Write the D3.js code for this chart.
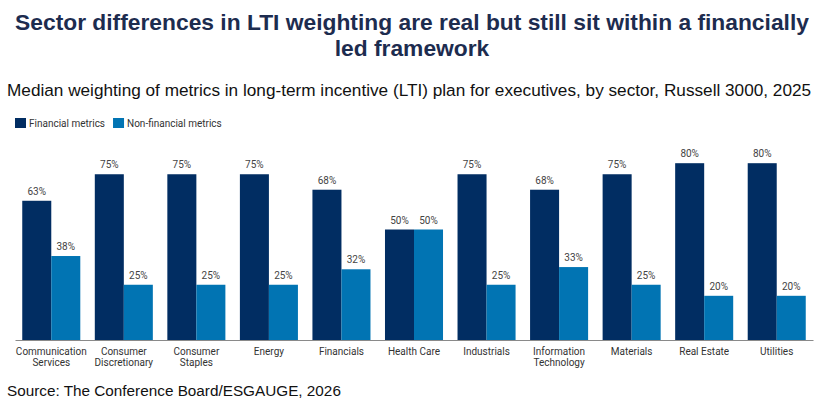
<!DOCTYPE html>
<html>
<head>
<meta charset="utf-8">
<script src="https://cdn.jsdelivr.net/npm/d3@7"></script>
<style>
  body { margin: 0; background: #fff; }
  svg { display: block; font-family: "Liberation Sans", Arial, sans-serif; }
  .small { font-family: Roboto, "Liberation Sans", sans-serif; }
</style>
</head>
<body>
<div id="chart"></div>
<script>
// Données
const sectors = [
  "Communication Services", "Consumer Discretionary", "Consumer Staples", "Energy",
  "Financials", "Health Care", "Industrials", "Information Technology",
  "Materials", "Real Estate", "Utilities"
];
// libellés sur deux lignes
const sectorLabels = [
  ["Communication", "Services"], ["Consumer", "Discretionary"], ["Consumer", "Staples"], ["Energy"],
  ["Financials"], ["Health Care"], ["Industrials"], ["Information", "Technology"],
  ["Materials"], ["Real Estate"], ["Utilities"]
];
const financial = [63, 75, 75, 75, 68, 50, 75, 68, 75, 80, 80];
const nonFinancial = [38, 25, 25, 25, 32, 50, 25, 33, 25, 20, 20];
const seriesNames = ["Financial metrics", "Non-financial metrics"];
const colors = ["#012d62", "#0174b3"];

const width = 833;
const height = 405;

const svg = d3.select("#chart")
  .append("svg")
  .attr("width", width)
  .attr("height", height);

//---------------------------------------------------------------------------------------
// Titraille

svg.append("text")
  .attr("x", 412)
  .attr("y", 30)
  .attr("text-anchor", "middle")
  .attr("font-size", "22.8px")
  .attr("font-weight", "bold")
  .attr("fill", "#1d2c4f")
  .selectAll("tspan")
  .data(["Sector differences in LTI weighting are real but still sit within a financially", "led framework"])
  .join("tspan")
  .attr("x", 412)
  .attr("dy", (d, i) => i === 0 ? 0 : 25.5)
  .text(d => d);

svg.append("text")
  .attr("x", 7)
  .attr("y", 96)
  .attr("font-size", "17.2px")
  .attr("fill", "#111")
  .text("Median weighting of metrics in long-term incentive (LTI) plan for executives, by sector, Russell 3000, 2025");

svg.append("text")
  .attr("x", 7)
  .attr("y", 396)
  .attr("font-size", "15.3px")
  .attr("fill", "#111")
  .text("Source: The Conference Board/ESGAUGE, 2026");

//---------------------------------------------------------------------------------------
// Légende

const legend = svg.append("g").attr("transform", "translate(15, 118)");
let lx = 0;
seriesNames.forEach((name, i) => {
  const g = legend.append("g").attr("transform", `translate(${lx}, 0)`);
  g.append("rect").attr("width", 11).attr("height", 10).attr("fill", colors[i]);
  const t = g.append("text")
    .attr("class", "small")
    .attr("x", 14)
    .attr("y", 9)
    .attr("font-size", "10px")
    .attr("fill", "#333")
    .text(name);
  lx += 14 + t.node().getComputedTextLength() + 8;
});

//---------------------------------------------------------------------------------------
// Échelles

const x0 = d3.scaleBand()
  .domain(sectors)
  .range([15, 813])
  .paddingInner(0.2)
  .paddingOuter(0.1);

const x1 = d3.scaleBand()
  .domain(seriesNames)
  .range([0, x0.bandwidth()]);

const y = d3.scaleLinear()
  .domain([0, 100])
  .range([340, 119]);

const rows = sectors.map((s, i) => ({
  sector: s,
  values: [
    { key: seriesNames[0], value: financial[i], color: colors[0] },
    { key: seriesNames[1], value: nonFinancial[i], color: colors[1] }
  ]
}));

//---------------------------------------------------------------------------------------
// Barres

const groups = svg.append("g")
  .selectAll("g")
  .data(rows)
  .join("g")
  .attr("transform", d => `translate(${x0(d.sector)}, 0)`);

groups.selectAll("rect")
  .data(d => d.values)
  .join("rect")
  .attr("x", d => x1(d.key))
  .attr("y", d => y(d.value))
  .attr("width", x1.bandwidth())
  .attr("height", d => y(0) - y(d.value))
  .attr("fill", d => d.color);

groups.selectAll("text")
  .data(d => d.values)
  .join("text")
  .attr("class", "small")
  .attr("x", d => x1(d.key) + x1.bandwidth() / 2)
  .attr("y", d => y(d.value) - 6)
  .attr("text-anchor", "middle")
  .attr("font-size", "10px")
  .attr("fill", "#444")
  .text(d => d.value + "%");

//---------------------------------------------------------------------------------------
// Axe X

const xAxis = svg.append("g")
  .attr("transform", `translate(0, ${y(0)})`)
  .call(d3.axisBottom(x0).tickSize(0).tickSizeOuter(0).tickFormat(""));

xAxis.select(".domain").attr("stroke", "#8a8a8a").attr("stroke-width", 1.2);

xAxis.selectAll(".tick").each(function (d, i) {
  const t = d3.select(this).append("text")
    .attr("class", "small")
    .attr("y", 14.5)
    .attr("text-anchor", "middle")
    .attr("font-size", "10px")
    .attr("fill", "#333");
  sectorLabels[i].forEach((line, j) => {
    t.append("tspan").attr("x", 0).attr("dy", j === 0 ? 0 : 11.5).text(line);
  });
});
</script>
</body>
</html>
